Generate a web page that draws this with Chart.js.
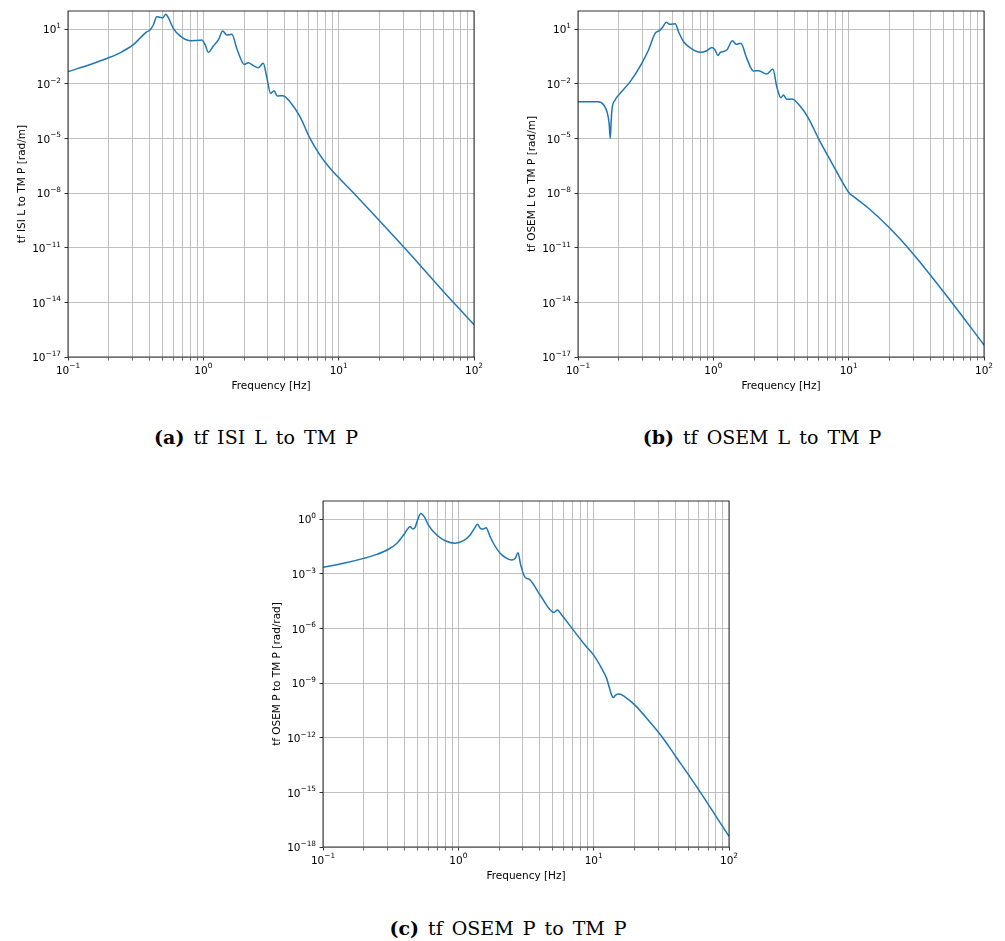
<!DOCTYPE html>
<html>
<head>
<meta charset="utf-8">
<title>Suspension transfer functions</title>
<script src="https://cdn.jsdelivr.net/npm/chart.js@4.4.1/dist/chart.umd.min.js"></script>
<style>
  body { margin: 0; background: #fff; }
  #page { position: relative; width: 1005px; height: 941px; overflow: hidden; }
  .panel { position: absolute; }
  .caption {
    position: absolute;
    font-family: 'DejaVu Serif', serif;
    font-size: 19px;
    line-height: 22px;
    word-spacing: 3px;
    color: #000;
    white-space: nowrap;
    transform: translateX(-50%);
  }
</style>
</head>
<body>
<div id="page">
  <div class="panel" style="left:0px;top:0px"><canvas id="chart-a" width="490" height="400"></canvas></div>
  <div class="panel" style="left:510px;top:0px"><canvas id="chart-b" width="490" height="400"></canvas></div>
  <div class="panel" style="left:255px;top:490px"><canvas id="chart-c" width="490" height="400"></canvas></div>
  <div class="caption" style="left:256px;top:426px"><b>(a)</b> tf ISI L to TM P</div>
  <div class="caption" style="left:762px;top:426px"><b>(b)</b> tf OSEM L to TM P</div>
  <div class="caption" style="left:508px;top:917px"><b>(c)</b> tf OSEM P to TM P</div>
</div>

<script>
// Data: frequency in Hz, magnitude as log10 exponent

// (a) tf ISI L to TM P [rad/m]
const freqA = [0.1, 0.15, 0.204, 0.25, 0.304, 0.34, 0.377, 0.404, 0.427, 0.452, 0.479, 0.501, 0.527, 0.546,
  0.6, 0.673, 0.798, 0.944, 0.973, 1.03, 1.089, 1.186, 1.291, 1.39, 1.489, 1.622, 1.782, 2.009, 2.148,
  2.344, 2.547, 2.773, 2.938, 3.141, 3.327, 3.524, 3.855, 4.365, 5.176, 6.138, 7.278, 8.63, 10.23,
  12.9, 19.1, 30.6, 70.3, 100];
const magExpA = [-1.33, -0.91, -0.54, -0.24, 0.15, 0.50, 0.83, 0.96, 1.23, 1.69, 1.65, 1.63, 1.82, 1.69,
  1.05, 0.63, 0.37, 0.39, 0.41, 0.15, -0.27, 0.08, 0.41, 0.90, 0.68, 0.72, -0.14, -0.94, -0.84,
  -1.0, -1.11, -0.87, -1.61, -2.52, -2.38, -2.67, -2.65, -2.98, -3.80, -4.99, -5.91, -6.64, -7.22,
  -8.0, -9.35, -11.0, -14.0, -15.22];

// (b) tf OSEM L to TM P [rad/m]
const freqB = [0.1, 0.141, 0.155, 0.165, 0.170, 0.173, 0.176, 0.178, 0.188, 0.205, 0.243, 0.296, 0.332,
  0.372, 0.4, 0.424, 0.449, 0.474, 0.501, 0.522, 0.553, 0.603, 0.675, 0.8, 0.895, 0.975, 1.03, 1.079,
  1.122, 1.259, 1.384, 1.472, 1.596, 1.766, 1.977, 2.158, 2.483, 2.754, 2.944, 3.155, 3.296, 3.491,
  3.802, 4.375, 5.047, 5.97, 7.079, 8.395, 9.33, 10.12, 10.7, 13.61, 20.18, 29.99, 55.98, 100];
const magExpB = [-2.98, -2.98, -3.16, -3.62, -4.2, -4.99, -4.0, -3.44, -2.89, -2.52, -1.88, -0.87, -0.14,
  0.78, 0.92, 1.14, 1.38, 1.27, 1.28, 1.30, 0.86, 0.31, -0.02, -0.27, -0.18, 0.0, -0.14, -0.45,
  -0.29, -0.14, 0.37, 0.17, 0.23, -0.60, -1.29, -1.28, -1.46, -1.19, -2.16, -2.76, -2.61, -2.85,
  -2.83, -3.22, -3.89, -4.99, -6.0, -7.0, -7.6, -8.01, -8.15, -8.75, -9.93, -11.34, -13.87, -16.34];

// (c) tf OSEM P to TM P [rad/rad]
const freqC = [0.1, 0.142, 0.2, 0.25, 0.305, 0.352, 0.394, 0.441, 0.461, 0.479, 0.5, 0.528, 0.56, 0.601,
  0.693, 0.8, 0.946, 1.091, 1.222, 1.315, 1.384, 1.455, 1.531, 1.603, 1.718, 1.816, 2.037, 2.28,
  2.483, 2.63, 2.761, 2.891, 3.112, 3.35, 4.018, 5.093, 5.383, 5.808, 7.079, 8.63, 10.0, 11.46,
  12.47, 13.0, 13.58, 13.96, 14.52, 15.38, 17.02, 20.18, 25.29, 32.66, 39.81, 55.98, 100];
const magExpC = [-2.64, -2.42, -2.15, -1.93, -1.65, -1.32, -0.87, -0.41, -0.54, -0.45, -0.04, 0.32, 0.14, -0.32,
  -0.87, -1.18, -1.32, -1.18, -0.87, -0.50, -0.28, -0.50, -0.54, -0.47, -0.96, -1.32, -1.87, -2.15,
  -2.24, -2.15, -1.84, -2.52, -3.19, -3.30, -4.16, -5.12, -4.99, -5.26, -6.09, -6.91, -7.46, -8.19,
  -8.74, -9.2, -9.66, -9.79, -9.66, -9.60, -9.75, -10.21, -11.03, -12.04, -12.96, -14.55, -17.41];

// Tick positions (decade exponents)
const freqDecades = [-1, 0, 1, 2];
const freqMinorSteps = [2, 3, 4, 5, 6, 7, 8, 9];
const magTicksAB = [-17, -14, -11, -8, -5, -2, 1];
const magTicksC = [-18, -15, -12, -9, -6, -3, 0];

const LINE_COLOR = '#1f77b4';
const GRID_COLOR = '#b0b0b0';
const FONT_SIZE = 10.5;
const FONT_FAMILY = "'DejaVu Sans', sans-serif";

Chart.defaults.font.family = FONT_FAMILY;
Chart.defaults.font.size = FONT_SIZE;
Chart.defaults.color = '#000';

function isDecade(v) {
    const e = Math.log10(v);
    return Math.abs(e - Math.round(e)) < 1e-6;
}

// All frequency grid positions: decades plus 2..9 in between
function freqTickValues() {
    const vals = [];
    freqDecades.forEach((d, i) => {
        vals.push(Math.pow(10, d));
        if (i < freqDecades.length - 1) {
            freqMinorSteps.forEach(s => vals.push(s * Math.pow(10, d)));
        }
    });
    return vals.sort((a, b) => a - b);
}

// Draw "10" with a raised, smaller exponent (mathtext style)
function drawPower(ctx, exp, x, baseline, align) {
    const mainFont = FONT_SIZE + 'px ' + FONT_FAMILY;
    const supFont = (FONT_SIZE * 0.7) + 'px ' + FONT_FAMILY;
    const expText = String(exp).replace('-', '\u2212');
    ctx.font = mainFont;
    const w1 = ctx.measureText('10').width;
    ctx.font = supFont;
    const w2 = ctx.measureText(expText).width;
    const total = w1 + w2;
    const start = align === 'center' ? x - total / 2 : x - total;
    ctx.font = mainFont;
    ctx.fillText('10', start, baseline);
    ctx.font = supFont;
    ctx.fillText(expText, start + w1, baseline - 5.2);
}

// Tick labels on both log axes
const powerLabelPlugin = {
    id: 'powerLabels',
    afterDraw(chart) {
        const { ctx, chartArea } = chart;
        const xs = chart.scales.x;
        const ys = chart.scales.y;
        ctx.save();
        ctx.fillStyle = '#000';
        ctx.textAlign = 'left';
        ctx.textBaseline = 'alphabetic';
        xs.ticks.forEach(t => {
            if (!isDecade(t.value)) return;
            const exp = Math.round(Math.log10(t.value));
            drawPower(ctx, exp, xs.getPixelForValue(t.value), chartArea.bottom + 16.5, 'center');
        });
        ys.ticks.forEach(t => {
            const exp = Math.round(Math.log10(t.value));
            drawPower(ctx, exp, chartArea.left - 7, ys.getPixelForValue(t.value) + 4.2, 'right');
        });
        ctx.restore();
    }
};

// Black box around the plotting area, like matplotlib spines
const framePlugin = {
    id: 'frame',
    afterDraw(chart) {
        const { ctx, chartArea: a } = chart;
        ctx.save();
        ctx.strokeStyle = '#000';
        ctx.lineWidth = 0.8;
        ctx.strokeRect(a.left, a.top, a.right - a.left, a.bottom - a.top);
        ctx.restore();
    }
};

function makePanel(canvasId, freqs, magExps, yTitle, yTicks) {
    const points = freqs.map((f, i) => ({ x: f, y: Math.pow(10, magExps[i]) }));
    const yMin = Math.pow(10, yTicks[0]);
    const yMax = Math.pow(10, yTicks[yTicks.length - 1] + 1);

    const config = {
        type: 'line',
        data: {
            datasets: [{
                data: points,
                borderColor: LINE_COLOR,
                borderWidth: 1.5,
                pointRadius: 0,
                fill: false,
                cubicInterpolationMode: 'monotone'
            }]
        },
        options: {
            responsive: false,
            devicePixelRatio: 1,
            animation: false,
            layout: { padding: { top: 11, right: 16, bottom: 0, left: 0 } },
            plugins: {
                legend: { display: false },
                tooltip: { enabled: false }
            },
            scales: {
                x: {
                    type: 'logarithmic',
                    min: 0.1,
                    max: 100,
                    border: { display: false },
                    grid: {
                        color: GRID_COLOR,
                        lineWidth: 0.8,
                        tickColor: '#000',
                        tickLength: 3.5,
                        tickWidth: ctx => (ctx.tick && isDecade(ctx.tick.value)) ? 0.8 : 0.6
                    },
                    ticks: {
                        autoSkip: false,
                        maxRotation: 0,
                        callback: () => ''
                    },
                    afterBuildTicks: scale => {
                        scale.ticks = freqTickValues().map(v => ({ value: v }));
                    },
                    afterFit: scale => {
                        scale.height = 43;
                        scale.paddingLeft = 0;
                        scale.paddingRight = 0;
                    },
                    title: {
                        display: true,
                        text: 'Frequency [Hz]',
                        padding: { top: 0, bottom: 7 }
                    }
                },
                y: {
                    type: 'logarithmic',
                    min: yMin,
                    max: yMax,
                    border: { display: false },
                    grid: {
                        color: GRID_COLOR,
                        lineWidth: 0.8,
                        tickColor: '#000',
                        tickLength: 3.5
                    },
                    ticks: {
                        autoSkip: false,
                        callback: () => ''
                    },
                    afterBuildTicks: scale => {
                        scale.ticks = yTicks.map(e => ({ value: Math.pow(10, e) }));
                    },
                    afterFit: scale => {
                        scale.width = 68;
                        scale.paddingTop = 0;
                        scale.paddingBottom = 0;
                    },
                    title: {
                        display: true,
                        text: yTitle,
                        padding: { top: 16, bottom: 16 }
                    }
                }
            }
        },
        plugins: [framePlugin, powerLabelPlugin]
    };

    return new Chart(document.getElementById(canvasId), config);
}

makePanel('chart-a', freqA, magExpA, 'tf ISI L to TM P [rad/m]', magTicksAB);
makePanel('chart-b', freqB, magExpB, 'tf OSEM L to TM P [rad/m]', magTicksAB);
makePanel('chart-c', freqC, magExpC, 'tf OSEM P to TM P [rad/rad]', magTicksC);
</script>
</body>
</html>
